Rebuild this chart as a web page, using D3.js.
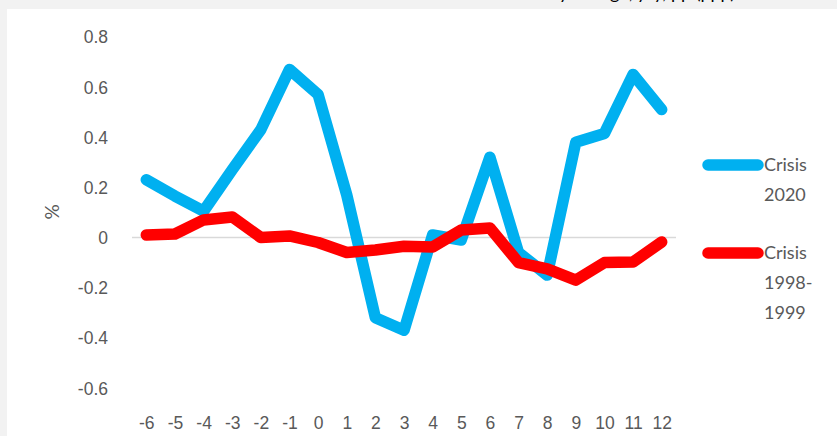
<!DOCTYPE html>
<html>
<head>
  <script src="https://d3js.org/d3.v7.min.js"></script>
  <style>
    body { margin: 0; background: #f2f2f2; }
    svg { display: block; font-family: Lato, "Open Sans", sans-serif; }
    .tick text { fill: #595959; font-size: 17.5px; }
  </style>
</head>
<body>
  <svg id="chart"></svg>
  <script>
    // Months around the start of each crisis
    const months = [-6, -5, -4, -3, -2, -1, 0, 1, 2, 3, 4, 5, 6, 7, 8, 9, 10, 11, 12];
    const crisis2020 = [0.23, 0.165, 0.105, 0.27, 0.43, 0.67, 0.57, 0.17, -0.32, -0.37, 0.01, -0.01, 0.32, -0.06, -0.15, 0.38, 0.415, 0.65, 0.51];
    const crisis1998 = [0.01, 0.014, 0.07, 0.082, 0.0, 0.006, -0.02, -0.06, -0.05, -0.035, -0.038, 0.03, 0.038, -0.1, -0.125, -0.17, -0.1, -0.098, -0.018];
    const yTicks = [0.8, 0.6, 0.4, 0.2, 0, -0.2, -0.4, -0.6];

    const series = [
      { name: ["Crisis", "2020"], values: crisis2020, color: "#00b0f0", ly: 165 },
      { name: ["Crisis", "1998-", "1999"], values: crisis1998, color: "#ff0000", ly: 253 }
    ];

    const width = 837, height = 436;
    const svg = d3.select("#chart").attr("width", width).attr("height", height);

    // white chart panel
    svg.append("rect")
      .attr("x", 7).attr("y", 9)
      .attr("width", width).attr("height", height)
      .attr("fill", "#fff");

    // title above, mostly cut off by the window edge
    svg.append("text")
      .attr("x", 735).attr("y", -1.5)
      .attr("text-anchor", "end")
      .attr("font-size", 18)
      .attr("fill", "#000")
      .text("Monthly change, y/y, pp (ppp)");

    const x = d3.scalePoint().domain(months).range([132, 676]).padding(0.5);
    const y = d3.scaleLinear().domain([-0.6, 0.8]).range([388, 36.8]);

    // y axis (labels only)
    svg.append("g")
      .attr("transform", "translate(108,0)")
      .call(d3.axisLeft(y).tickValues(yTicks).tickSize(0).tickPadding(0)
        .tickFormat(d => d === 0 ? "0" : d3.format(".1f")(d).replace("−", "-")))
      .call(g => g.select(".domain").remove())
      .selectAll("text").attr("dy", "0.35em");

    // x axis labels at the bottom
    svg.append("g")
      .attr("transform", "translate(0,413)")
      .call(d3.axisBottom(x).tickSize(0).tickPadding(0))
      .call(g => g.select(".domain").remove())
      .selectAll("text").attr("dy", "0.9em");

    // zero line
    svg.append("line")
      .attr("x1", 132).attr("x2", 676)
      .attr("y1", y(0)).attr("y2", y(0))
      .attr("stroke", "#d9d9d9").attr("stroke-width", 1.5);

    // y axis title
    svg.append("text")
      .attr("transform", "translate(52,212) rotate(-90)")
      .attr("text-anchor", "middle")
      .attr("dy", "0.35em")
      .attr("font-size", 19)
      .attr("fill", "#595959")
      .text("%");

    const line = d3.line()
      .x((d, i) => x(months[i]))
      .y(d => y(d));

    // red drawn after blue where the lines cross
    series.forEach(s => {
      svg.append("path")
        .datum(s.values)
        .attr("d", line)
        .attr("fill", "none")
        .attr("stroke", s.color)
        .attr("stroke-width", 11.5)
        .attr("stroke-linecap", "round")
        .attr("stroke-linejoin", "round");
    });

    // legend
    series.forEach(s => {
      svg.append("line")
        .attr("x1", 708).attr("x2", 758)
        .attr("y1", s.ly).attr("y2", s.ly)
        .attr("stroke", s.color)
        .attr("stroke-width", 11.5)
        .attr("stroke-linecap", "round");
      s.name.forEach((t, i) => {
        svg.append("text")
          .attr("x", 764).attr("y", s.ly + 6 + i * 30)
          .attr("font-size", 18)
          .attr("fill", "#595959")
          .text(t);
      });
    });
  </script>
</body>
</html>
